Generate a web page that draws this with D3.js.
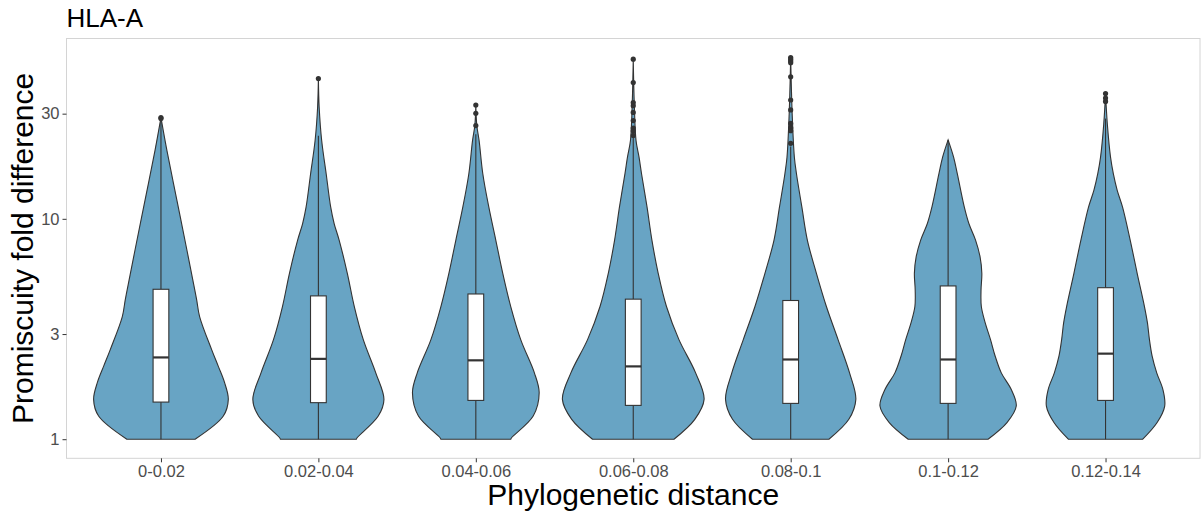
<!DOCTYPE html>
<html>
<head>
<meta charset="utf-8">
<script src="https://cdn.jsdelivr.net/npm/d3@7"></script>
<style>
  body { margin: 0; background: #fff; }
  text { font-family: "Liberation Sans", Arial, sans-serif; }
</style>
</head>
<body>
<svg id="chart-root" width="1201" height="516"></svg>
<script>

const root = d3.select('#chart-root');

//Data
const categories = ['0-0.02', '0.02-0.04', '0.04-0.06', '0.06-0.08', '0.08-0.1', '0.1-0.12', '0.12-0.14'];
const yTicks = [1, 3, 10, 30];

// box stats (fold difference)
const q1 = [1.474, 1.465, 1.50, 1.424, 1.454, 1.454, 1.50];
const medians = [2.35, 2.315, 2.28, 2.14, 2.30, 2.30, 2.445];
const q3 = [4.79, 4.47, 4.56, 4.32, 4.26, 4.96, 4.87];
const whiskerLow = [1, 1, 1, 1, 1, 1, 1];
const whiskerHigh = [28.1, 23.8, 24.2, 23.6, 21.3, 22.8, 28.5];

const outliers = [
    [28.8, 28.5],
    [43.3],
    [32.8, 30.1, 26.5],
    [53.0, 41.5, 33.7, 32.6, 30.4, 27.9, 25.8, 25.1, 23.9],
    [53.9, 53.0, 52.0, 51.1, 44.1, 34.6, 31.2, 27.1, 25.9, 25.1, 22.0],
    [],
    [37.0, 35.3, 34.1]
];

// violin outlines: [fold difference, density]
const densities = [
    [[28.8, 0], [20.4, 6], [12.13, 16], [7.22, 26], [5.12, 32.5], [4.29, 35.8], [3.59, 38.8], [2.55, 50.8],
     [2.14, 57.5], [1.81, 63.7], [1.516, 67.5], [1.274, 62.5], [1, 34.2]],
    [[43.3, 0], [32, 0.8], [22.65, 3.3], [16.02, 7.8], [11.32, 12.3], [9.52, 15.8], [8.01, 20.8], [5.66, 29],
     [4.00, 36], [2.83, 45], [2.00, 57.5], [1.516, 65.7], [1.274, 60], [1.018, 39], [1, 38]],
    [[32.8, 0], [26.5, 1], [22.65, 3.3], [16.02, 7], [11.32, 13], [8.01, 20], [5.66, 27], [4.00, 35],
     [2.83, 45], [2.00, 58.7], [1.625, 63.5], [1.274, 57.5], [1.018, 36], [1, 35]],
    [[53.0, 0], [33.7, 1], [22.65, 2.8], [19.04, 5.8], [16.02, 8.3], [11.32, 13.8], [8.01, 18.7], [5.66, 25],
     [4.00, 33.3], [2.83, 45.8], [2.00, 62.5], [1.516, 71], [1.231, 61.7], [1, 40.8]],
    [[53.9, 0], [30, 1.5], [19.04, 3.7], [16.02, 5.8], [11.32, 11.2], [8.01, 16.7], [5.66, 25.8], [4.00, 35.8],
     [2.83, 47.5], [2.00, 59], [1.516, 65.3], [1.231, 58.3], [1, 38.3]],
    [[22.8, 0], [19.04, 5.5], [16.02, 9.2], [11.32, 16.2], [9.52, 20.8], [8.01, 27.5], [6.73, 32], [5.66, 33.8],
     [4.76, 33], [4.00, 33.3], [3.37, 37.2], [2.83, 42.5], [2.38, 47.2], [2.00, 53.3], [1.68, 63.3],
     [1.414, 68.3], [1.19, 59], [1, 40]],
    [[37.0, 0], [26.9, 1.8], [19.04, 5], [16.02, 7.8], [13.46, 11.7], [11.32, 17], [8.01, 24.7], [5.66, 31.7],
     [4.00, 39], [3.37, 42], [2.83, 44], [2.38, 46.7], [2.00, 51.3], [1.68, 57.5], [1.414, 59.3],
     [1.19, 51.7], [1, 37.3]]
];

//Layout
const panel = { left: 66.5, right: 1200, top: 38.5, bottom: 458.3 };
const fillColor = '#68a4c4';
const inkColor = '#333333';

//Scales
const allValues = densities.flat().map(d => d[0]).concat(outliers.flat());
const logMin = Math.log10(d3.min(allValues));
const logMax = Math.log10(d3.max(allValues));
const pad = (logMax - logMin) * 0.05;

const yScale = d3.scaleLog()
    .domain([Math.pow(10, logMin - pad), Math.pow(10, logMax + pad)])
    .range([panel.bottom, panel.top]);

const xScale = d3.scalePoint()
    .domain(categories)
    .range([panel.left, panel.right])
    .padding(0.6);

const step = xScale.step();
const widthScale = d3.scaleLinear().domain([0, 71]).range([0, step * 0.45]);
const boxHalf = step * 0.05;

//Violins
const groups = root.append('g').selectAll('g')
    .data(categories)
    .join('g')
    .attr('transform', d => `translate(${xScale(d)},0)`);

const violinArea = d3.area()
    .y(d => yScale(d[0]))
    .x0(d => -widthScale(d[1]))
    .x1(d => widthScale(d[1]))
    .curve(d3.curveCatmullRom);

groups.append('path')
    .attr('d', (d, i) => violinArea(densities[i]))
    .attr('fill', fillColor)
    .attr('stroke', inkColor)
    .attr('stroke-width', 1.1);

// whiskers
groups.append('line')
    .attr('x1', 0).attr('x2', 0)
    .attr('y1', (d, i) => yScale(q3[i]))
    .attr('y2', (d, i) => yScale(whiskerHigh[i]))
    .attr('stroke', inkColor)
    .attr('stroke-width', 1.1);

groups.append('line')
    .attr('x1', 0).attr('x2', 0)
    .attr('y1', (d, i) => yScale(q1[i]))
    .attr('y2', (d, i) => yScale(whiskerLow[i]))
    .attr('stroke', inkColor)
    .attr('stroke-width', 1.1);

// boxes
groups.append('rect')
    .attr('x', -boxHalf)
    .attr('width', boxHalf * 2)
    .attr('y', (d, i) => yScale(q3[i]))
    .attr('height', (d, i) => yScale(q1[i]) - yScale(q3[i]))
    .attr('fill', '#ffffff')
    .attr('stroke', inkColor)
    .attr('stroke-width', 1.1);

groups.append('line')
    .attr('x1', -boxHalf).attr('x2', boxHalf)
    .attr('y1', (d, i) => yScale(medians[i]))
    .attr('y2', (d, i) => yScale(medians[i]))
    .attr('stroke', inkColor)
    .attr('stroke-width', 2.2);

groups.selectAll('circle')
    .data((d, i) => outliers[i])
    .join('circle')
    .attr('cx', 0)
    .attr('cy', d => yScale(d))
    .attr('r', 2.6)
    .attr('fill', inkColor);

//Panel border
root.append('rect')
    .attr('x', panel.left)
    .attr('y', panel.top)
    .attr('width', panel.right - panel.left)
    .attr('height', panel.bottom - panel.top)
    .attr('fill', 'none')
    .attr('stroke', '#d4d4d4')
    .attr('stroke-width', 1);

//Axes
const yAxis = root.append('g')
    .attr('transform', `translate(${panel.left},0)`)
    .call(d3.axisLeft(yScale).tickValues(yTicks).tickFormat(d3.format('d')).tickSize(4).tickPadding(3));

const xAxis = root.append('g')
    .attr('transform', `translate(0,${panel.bottom})`)
    .call(d3.axisBottom(xScale).tickSize(4).tickPadding(3));

[yAxis, xAxis].forEach(ax => {
    ax.select('.domain').remove();
    ax.selectAll('.tick line').attr('stroke', inkColor).attr('stroke-width', 1);
    ax.selectAll('.tick text')
        .attr('fill', '#4d4d4d')
        .style('font-size', '16.5px')
        .style('font-family', '"Liberation Sans", Arial, sans-serif');
});

//Titles
root.append('text')
    .attr('x', panel.left)
    .attr('y', 26.7)
    .style('font-size', '26px')
    .attr('fill', '#000')
    .text('HLA-A');

root.append('text')
    .attr('x', (panel.left + panel.right) / 2)
    .attr('y', 505)
    .attr('text-anchor', 'middle')
    .style('font-size', '30px')
    .attr('fill', '#000')
    .text('Phylogenetic distance');

root.append('text')
    .attr('transform', `translate(33.3,${(panel.top + panel.bottom) / 2}) rotate(-90)`)
    .attr('text-anchor', 'middle')
    .style('font-size', '30px')
    .attr('fill', '#000')
    .text('Promiscuity fold difference');

</script>
</body>
</html>
